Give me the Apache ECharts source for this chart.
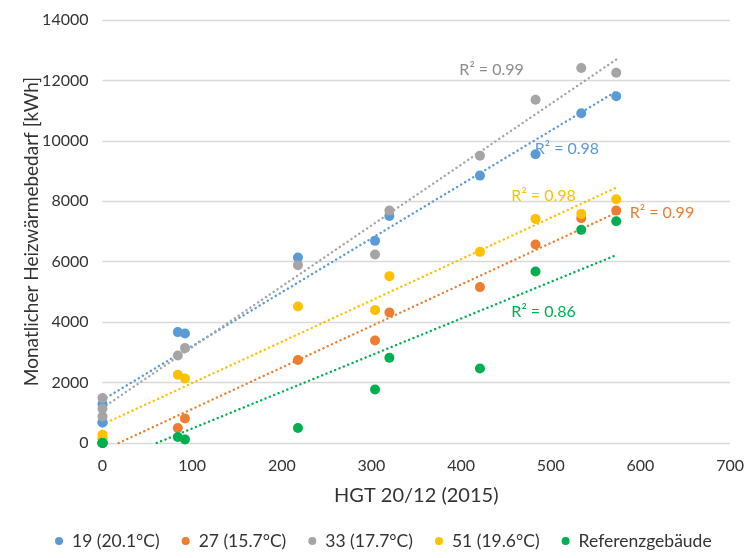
<!DOCTYPE html>
<html>
<head>
<meta charset="utf-8">
<script src="https://cdn.jsdelivr.net/npm/echarts@6/dist/echarts.min.js"></script>
<style>html,body{margin:0;padding:0;background:#fff}#c{width:747px;height:558px}</style>
</head>
<body>
<div id="c"></div>
<script>
// HGT 20/12 per month (2015)
var hgt = [0, 0, 0, 84, 92, 218, 304, 320, 421, 483, 534, 573];
var seriesNames = ['19 (20.1°C)', '27 (15.7°C)', '33 (17.7°C)', '51 (19.6°C)', 'Referenzgebäude'];
var s19  = [1290, 681, 681, 3670, 3625, 6138, 6690, 7517, 8850, 9557, 10913, 11475];
var s27  = [0, 0, 0, 496, 813, 2745, 3393, 4319, 5159, 6567, 7440, 7692];
var s33  = [1488, 1134, 880, 2897, 3141, 5886, 6237, 7692, 9511, 11362, 12411, 12255];
var s51  = [274, 150, 150, 2259, 2136, 4517, 4398, 5522, 6326, 7417, 7583, 8069];
var sRef = [0, 0, 0, 198, 119, 496, 1772, 2821, 2467, 5675, 7054, 7341];
var r2Labels = ['R² = 0.98', 'R² = 0.99', 'R² = 0.99', 'R² = 0.98', 'R² = 0.86'];
var xTicks = [0, 100, 200, 300, 400, 500, 600, 700];
var yTicks = [0, 2000, 4000, 6000, 8000, 10000, 12000, 14000];

var colors = ['#5B9BD5', '#ED7D31', '#A5A5A5', '#FFC000', '#00B050'];
var labelColors = ['#5B9BD5', '#ED7D31', '#8C8C8C', '#FFC000', '#00B050'];
var labelPos = [[518, 9750], [624, 7620], [434, 12350], [492, 8180], [492, 4340]];
var allData = [s19, s27, s33, s51, sRef];

function fit(xs, ys) {
  var n = xs.length, mx = 0, my = 0;
  for (var i = 0; i < n; i++) { mx += xs[i]; my += ys[i]; }
  mx /= n; my /= n;
  var sxy = 0, sxx = 0;
  for (var j = 0; j < n; j++) { sxy += (xs[j] - mx) * (ys[j] - my); sxx += (xs[j] - mx) * (xs[j] - mx); }
  var m = sxy / sxx; return { m: m, b: my - m * mx };
}
var xMin = Math.min.apply(null, hgt), xMax = Math.max.apply(null, hgt);
var FONT = 'Lato';
var series = [];
allData.forEach(function (ys, k) {
  var f = fit(hgt, ys);
  var x0 = xMin;
  if (f.m * x0 + f.b < 0) x0 = -f.b / f.m;
  series.push({
    name: seriesNames[k] + ' trend', type: 'line', silent: true, symbol: 'none',
    data: [[x0, f.m * x0 + f.b], [xMax, f.m * xMax + f.b]],
    lineStyle: { color: colors[k], width: 2.4, type: [0.1, 4.6], cap: 'round' },
    z: 1,
    markPoint: {
      symbol: 'circle', symbolSize: 0,
      data: [{ coord: labelPos[k], value: r2Labels[k] }],
      label: { show: true, formatter: r2Labels[k], color: labelColors[k], fontFamily: FONT, fontSize: 16 }
    }
  });
});
allData.forEach(function (ys, k) {
  series.push({
    name: seriesNames[k], type: 'scatter', symbolSize: 10,
    data: hgt.map(function (x, i) { return [x, ys[i]]; }),
    itemStyle: { color: colors[k], opacity: 1 }, z: 3
  });
});

var chart = echarts.init(document.getElementById('c'), null, { renderer: 'canvas' });
chart.setOption({
  animation: false,
  color: colors,
  grid: { left: 102.5, right: 16, top: 20, bottom: 115, containLabel: false },
  xAxis: {
    type: 'value', min: xTicks[0], max: xTicks[xTicks.length - 1], interval: 100,
    name: 'HGT 20/12 (2015)', nameLocation: 'middle', nameGap: 43, nameMoveOverlap: false,
    nameTextStyle: { fontFamily: FONT, fontSize: 20, color: '#333' },
    axisLine: { show: false }, axisTick: { show: false },
    splitLine: { show: false },
    axisLabel: { margin: 15, fontFamily: FONT, fontSize: 16, color: '#333', formatter: function (v) { return String(v); } }
  },
  yAxis: {
    type: 'value', min: yTicks[0], max: yTicks[yTicks.length - 1], interval: 2000,
    name: 'Monatlicher Heizwärmebedarf [kWh]', nameLocation: 'middle', nameGap: 61, nameMoveOverlap: false,
    nameTextStyle: { fontFamily: FONT, fontSize: 19, color: '#333' },
    axisLine: { show: false }, axisTick: { show: false },
    splitLine: { show: true, lineStyle: { color: '#D9D9D9', width: 1.3 } },
    axisLabel: { margin: 14, fontFamily: FONT, fontSize: 16, color: '#333', formatter: function (v) { return String(v); } }
  },
  legend: {
    bottom: 3, left: 50, icon: 'circle', itemWidth: 16, itemHeight: 8, itemGap: 22,
    data: seriesNames,
    textStyle: { fontFamily: FONT, fontSize: 17.5, color: '#333' }
  },
  series: series
});
</script>
</body>
</html>
